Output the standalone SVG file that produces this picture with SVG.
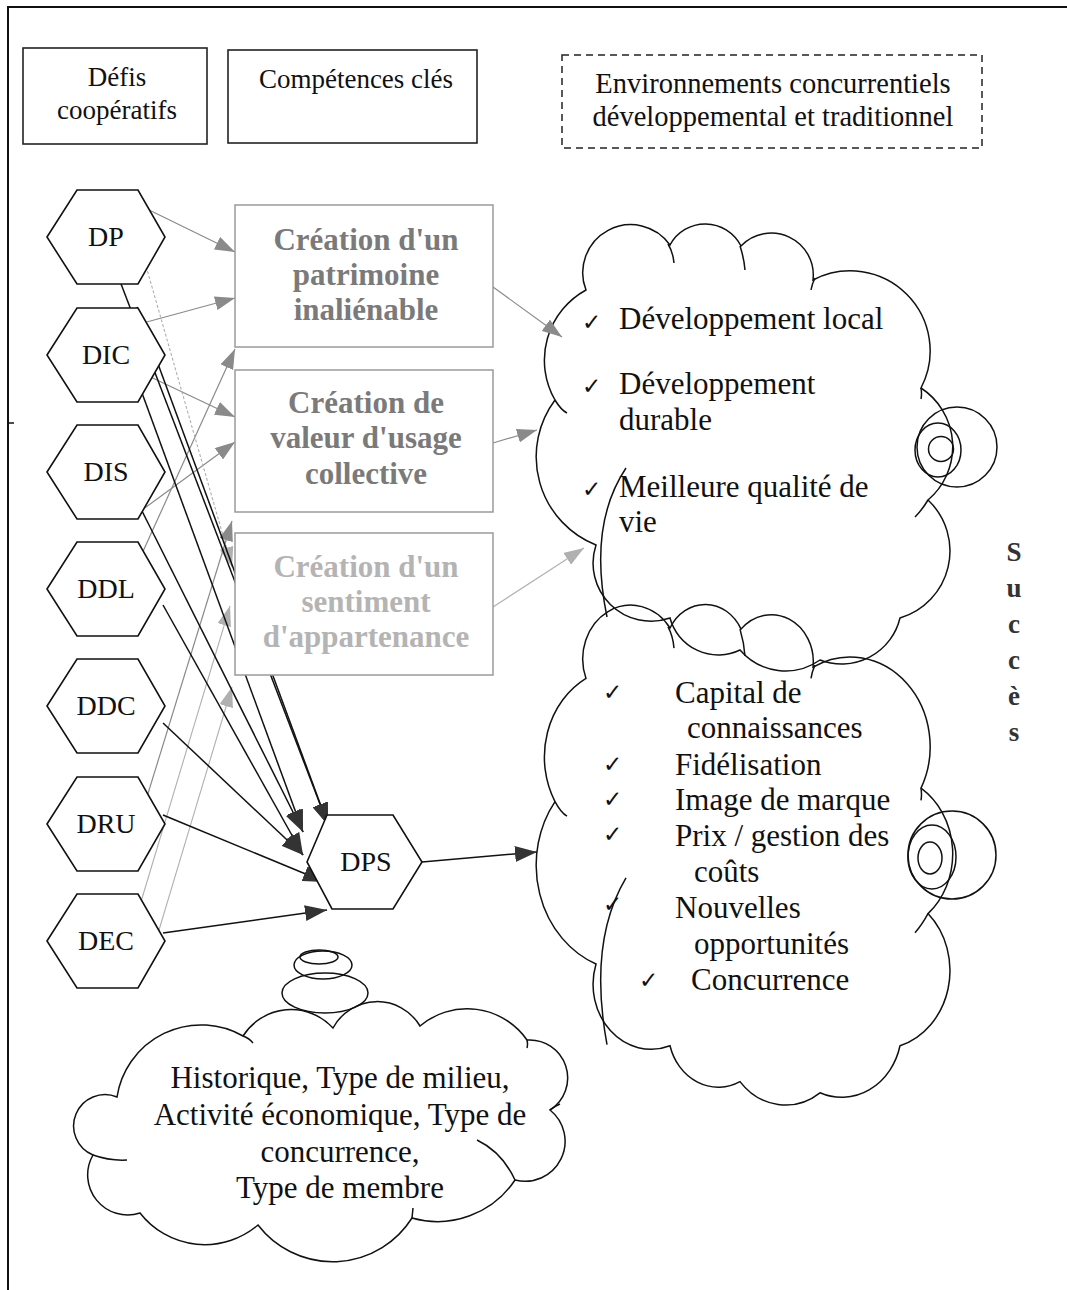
<svg xmlns="http://www.w3.org/2000/svg" xmlns:xlink="http://www.w3.org/1999/xlink" width="1067" height="1290" viewBox="0 0 1067 1290">
  <defs>
    <style>
      text { font-family: "Liberation Serif", "Times New Roman", serif; fill: #111; }
      .hex { fill: #fff; stroke: #111; stroke-width: 1.6; }
      .hdr { fill: #fff; stroke: #222; stroke-width: 1.6; }
      .env { fill: none; stroke: #222; stroke-width: 1.5; stroke-dasharray: 7 5; }
      .cbox { fill: #fff; stroke: #9a9a9a; stroke-width: 1.5; }
      .lbl { font-size: 28px; text-anchor: middle; }
      .hd { font-size: 27px; text-anchor: middle; }
      .comp { font-size: 31px; font-weight: bold; text-anchor: middle; fill: #7a7a7a; }
      .comp3 { fill: #b4b4b4; }
      .item { font-size: 31px; }
      .ctx { font-size: 31px; text-anchor: middle; }
      .chk { font-family: "DejaVu Sans", sans-serif; font-size: 23px; }
      .ga { fill: none; stroke: #8a8a8a; stroke-width: 1.2; marker-end: url(#mg); }
      .gl { fill: none; stroke: #b0b0b0; stroke-width: 1.1; marker-end: url(#ml); }
      .da { fill: none; stroke: #111; stroke-width: 1.5; marker-end: url(#md); }
      .cl { fill: none; stroke: #111; stroke-width: 1.5; vector-effect: non-scaling-stroke; }
      .succ { font-size: 27px; font-weight: bold; text-anchor: middle; fill: #333; }
    </style>
    <marker id="mg" viewBox="0 0 20 14" refX="20" refY="7" markerWidth="20" markerHeight="14" markerUnits="userSpaceOnUse" orient="auto">
      <path d="M0,0 L20,7 L0,14 z" fill="#8a8a8a"/>
    </marker>
    <marker id="ml" viewBox="0 0 20 14" refX="20" refY="7" markerWidth="20" markerHeight="14" markerUnits="userSpaceOnUse" orient="auto">
      <path d="M0,0 L20,7 L0,14 z" fill="#b0b0b0"/>
    </marker>
    <marker id="md" viewBox="0 0 22 16" refX="22" refY="8" markerWidth="22" markerHeight="16" markerUnits="userSpaceOnUse" orient="auto">
      <path d="M0,0 L22,8 L0,16 z" fill="#333"/>
    </marker>
    <polygon id="hexShape" points="-59,0 -29,-47 32,-47 59,0 32,47 -29,47"/>
    <!-- scalloped outline shared by the two outcome clouds -->
    <g id="cloudShape">
      <path class="cl" d="M586,290 A48,48 0 0 1 670,245 A40,40 0 0 1 741,246 A42,42 0 0 1 813,280 A80,80 0 0 1 921,388 A70,70 0 0 1 928,500 A70,70 0 0 1 900,618 A60,60 0 0 1 820,660 A60,60 0 0 1 740,650 A50,50 0 0 1 670,618 A58,58 0 0 1 596,545 A95,95 0 0 1 555,400 A80,80 0 0 1 586,290 Z"/>
      <path class="cl" d="M668,244 Q673,252 674,263 M740,246 Q744,258 745,270 M811,290 Q812,284 815,278 M921,388 Q922,394 921,399 M928,500 Q922,510 915,517 M626,468 Q588,525 607,617 M555,400 Q561,410 567,413"/>
    </g>
  </defs>

  <!-- page frame -->
  <path d="M8,1290 L8,7 L1067,7" fill="none" stroke="#111" stroke-width="2"/>
  <path d="M8,423 L14,423" stroke="#111" stroke-width="1.5"/>

  <!-- column headers -->
  <g id="hdr-defis">
    <rect class="hdr" x="23" y="48" width="184" height="96"/>
    <text class="hd" x="117" y="86">Défis</text>
    <text class="hd" x="117" y="119">coopératifs</text>
  </g>
  <g id="hdr-competences">
    <rect class="hdr" x="228" y="50" width="249" height="93"/>
    <text class="hd" x="356" y="88">Compétences clés</text>
  </g>
  <g id="hdr-environnements">
    <rect class="env" x="562" y="55" width="420" height="93"/>
    <text class="hd" x="773" y="93" style="font-size:28.5px">Environnements concurrentiels</text>
    <text class="hd" x="773" y="126" style="font-size:28.5px">développemental et traditionnel</text>
  </g>

  <!-- outcome clouds -->
  <g id="cloud-developpement">
    <use xlink:href="#cloudShape"/>
    <circle class="cl" cx="957" cy="447" r="40"/>
    <ellipse class="cl" cx="938" cy="450" rx="23" ry="27"/>
    <circle class="cl" cx="941" cy="449" r="12.5"/>
    <text class="chk" x="582" y="330">✓</text>
    <text class="item" x="619" y="329">Développement local</text>
    <text class="chk" x="582" y="394">✓</text>
    <text class="item" x="619" y="394">Développement</text>
    <text class="item" x="619" y="430">durable</text>
    <text class="chk" x="582" y="497">✓</text>
    <text class="item" x="619" y="497">Meilleure qualité de</text>
    <text class="item" x="619" y="532">vie</text>
  </g>
  <g id="cloud-entreprise">
    <use xlink:href="#cloudShape" transform="translate(0,600) scale(1,1.12) translate(0,-220)"/>
    <circle class="cl" cx="952" cy="855" r="44"/>
    <ellipse class="cl" cx="932" cy="857" rx="24" ry="32"/>
    <ellipse class="cl" cx="930" cy="858" rx="12" ry="16"/>
    <text class="chk" x="603" y="700">✓</text>
    <text class="item" x="675" y="703">Capital de</text>
    <text class="item" x="687" y="738">connaissances</text>
    <text class="chk" x="603" y="772">✓</text>
    <text class="item" x="675" y="775">Fidélisation</text>
    <text class="chk" x="603" y="807">✓</text>
    <text class="item" x="675" y="810">Image de marque</text>
    <text class="chk" x="603" y="842">✓</text>
    <text class="item" x="675" y="846">Prix / gestion des</text>
    <text class="item" x="694" y="882">coûts</text>
    <text class="chk" x="603" y="912">✓</text>
    <text class="item" x="675" y="918">Nouvelles</text>
    <text class="item" x="694" y="954">opportunités</text>
    <text class="chk" x="639" y="988">✓</text>
    <text class="item" x="691" y="990">Concurrence</text>
  </g>

  <text class="succ" x="1014" y="561">S</text>
  <text class="succ" x="1014" y="597">u</text>
  <text class="succ" x="1014" y="633">c</text>
  <text class="succ" x="1014" y="669">c</text>
  <text class="succ" x="1014" y="705">è</text>
  <text class="succ" x="1014" y="741">s</text>

  <!-- context cloud -->
  <g id="cloud-contexte">
    <ellipse class="cl" cx="325" cy="993" rx="43" ry="20" fill="#fff"/>
    <ellipse class="cl" cx="323" cy="965" rx="29" ry="14" fill="#fff"/>
    <ellipse class="cl" cx="319" cy="957" rx="19" ry="7" fill="#fff"/>
    <path class="cl" fill="#fff" d="M117,1097 A85,85 0 0 1 243,1036 A57,57 0 0 1 333,1028 A50,50 0 0 1 420,1026 A73,73 0 0 1 527,1040 A38,38 0 0 1 550,1110 A40,40 0 0 1 515,1180 A93,93 0 0 1 412,1218 A94,94 0 0 1 258,1225 A82,82 0 0 1 140,1213 A40,40 0 0 1 93,1155 A31,31 0 0 1 117,1097 Z"/>
    <path class="cl" d="M243,1036 Q249,1038 253,1043 M527,1040 Q528,1044 527,1048 M550,1110 Q555,1106 560,1104 M477,1140 Q502,1152 515,1180 M412,1218 L413,1208 M93,1155 Q110,1161 127,1160"/>
    <text class="ctx" x="340" y="1088">Historique, Type de milieu,</text>
    <text class="ctx" x="340" y="1125">Activité économique, Type de</text>
    <text class="ctx" x="340" y="1162">concurrence,</text>
    <text class="ctx" x="340" y="1198">Type de membre</text>
  </g>

  <!-- connectors -->
  <g id="connectors">
    <path class="ga" d="M143,207 L235,252"/>
    <path class="ga" d="M143,323 L235,298"/>
    <path class="ga" d="M140,558 L235,349"/>
    <path class="ga" d="M140,372 L235,417"/>
    <path class="ga" d="M142,510 L235,442"/>
    <path class="gl" d="M142,252 L232,567" stroke-dasharray="3 2"/>
    <path class="ga" d="M142,813 L232,521"/>
    <path class="gl" d="M140,905 L230,606"/>
    <path class="gl" d="M150,960 L232,687"/>
    <path class="ga" d="M493,287 L562,337"/>
    <path class="ga" d="M493,443 L537,430"/>
    <path class="gl" d="M493,607 L584,548"/>
    <path class="da" d="M118,276 L328,825"/>
    <path class="da" d="M137,307 L328,825"/>
    <path class="da" d="M142,393 L303,832"/>
    <path class="da" d="M142,511 L303,832"/>
    <path class="da" d="M163,605 L303,855"/>
    <path class="da" d="M163,723 L303,855"/>
    <path class="da" d="M163,815 L325,882"/>
    <path class="da" d="M163,933 L327,910"/>
    <path class="da" d="M422,862 L537,852"/>
  </g>

  <!-- key competences -->
  <g id="comp-patrimoine">
    <rect class="cbox" x="235" y="205" width="258" height="142"/>
    <text class="comp" x="366" y="250">Création d'un</text>
    <text class="comp" x="366" y="285">patrimoine</text>
    <text class="comp" x="366" y="320">inaliénable</text>
  </g>
  <g id="comp-valeur">
    <rect class="cbox" x="235" y="370" width="258" height="142"/>
    <text class="comp" x="366" y="413">Création de</text>
    <text class="comp" x="366" y="448">valeur d'usage</text>
    <text class="comp" x="366" y="484">collective</text>
  </g>
  <g id="comp-appartenance">
    <rect class="cbox" x="235" y="533" width="258" height="142"/>
    <text class="comp comp3" x="366" y="577">Création d'un</text>
    <text class="comp comp3" x="366" y="612">sentiment</text>
    <text class="comp comp3" x="366" y="647">d'appartenance</text>
  </g>

  <!-- cooperative challenges -->
  <g id="hex-dp"><use xlink:href="#hexShape" class="hex" transform="translate(106,237)"/><text class="lbl" x="106" y="246">DP</text></g>
  <g id="hex-dic"><use xlink:href="#hexShape" class="hex" transform="translate(106,355)"/><text class="lbl" x="106" y="364">DIC</text></g>
  <g id="hex-dis"><use xlink:href="#hexShape" class="hex" transform="translate(106,472)"/><text class="lbl" x="106" y="481">DIS</text></g>
  <g id="hex-ddl"><use xlink:href="#hexShape" class="hex" transform="translate(106,589)"/><text class="lbl" x="106" y="598">DDL</text></g>
  <g id="hex-ddc"><use xlink:href="#hexShape" class="hex" transform="translate(106,706)"/><text class="lbl" x="106" y="715">DDC</text></g>
  <g id="hex-dru"><use xlink:href="#hexShape" class="hex" transform="translate(106,824)"/><text class="lbl" x="106" y="833">DRU</text></g>
  <g id="hex-dec"><use xlink:href="#hexShape" class="hex" transform="translate(106,941)"/><text class="lbl" x="106" y="950">DEC</text></g>
  <g id="hex-dps">
    <polygon class="hex" points="307,862 327,815 393,815 422,862 393,909 332,909"/>
    <text class="lbl" x="366" y="871">DPS</text>
  </g>
</svg>
